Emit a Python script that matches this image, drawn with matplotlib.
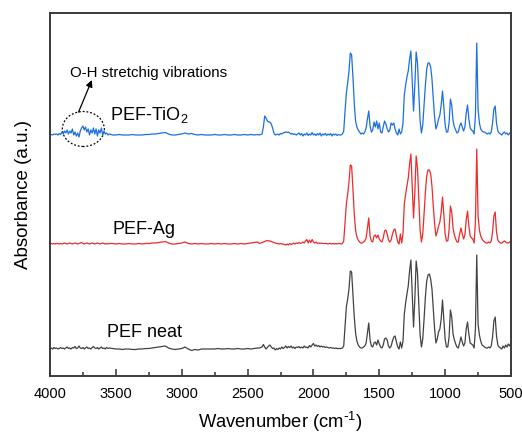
import numpy as np
import matplotlib
matplotlib.use("Agg")
import matplotlib.pyplot as plt
from matplotlib.patches import Ellipse

plt.rcParams['font.family'] = ['Liberation Sans', 'DejaVu Sans']
plt.rcParams['mathtext.default'] = 'regular'

# wavenumber grid (cm-1): 4000-3550 step 10, 3525-2425 step 25, 2410-1800 step 10, 1790-500 step 10
wavenumber = np.concatenate([np.arange(4000, 3549, -10), np.arange(3525, 2424, -25),
                             np.arange(2410, 1799, -10), np.arange(1790, 499, -10)])

neat_A = [0,1,0,1.5,0.5,1,0,0.5,1.5,0.5, 1,0,1,2,0.5,1,0,1.5,1,2.5,
          0.5,1,3,1,0.5,1.5,0,1,2,0.5, 1,0,1.5,2.5,1,0.5,1.5,0,1,2, 0.5,1,0,1.5,0.5,1]
ag_A = [0,0.5,0,0.5,0,0.5,0.5,0,0.5,0, 0.5,1,0.5,0,0.5,1,0.5,0,0.5,1,
        0.5,0,0.5,1,1.5,0.5,0,0.5,1,0.5, 0,0.5,1,0.5,0,0.5,1,0.5,0,0.5, 1,0.5,0,0.5,0,0.5]
tio2_A = [0,0.5,0,1,0.5,1,0,1.5,0.5,3, 1,4,2,5,1,4,2,6,0,3,
          -1,2,-2,4,7,9,5,8,3,6, 0,5,2,7,1,6,-1,5,2,7, 0,4,1,2,0,1]

neat_B = [0.5,0,0,-0.5,0,0,-0.5,-0.5,0,0, 0.5,0.5,1,1.5,2,2.5,3,1,0,-0.5,
          0,0.5,2,0,-1.5,-0.5,-1,0,0,0, 0,0,0.5,0,0,0.5,0,0,0.5,0, 0,0.5,0,0.5,1]
ag_B = [0.5,0,0.5,0,0,0.5,0,0,0.5,0, 0.5,0.5,1,1,1.5,2,2.5,1,0,0,
        0.5,1,2,0.5,0,0.5,0,0.5,0,0, 0.5,0,0.5,0,0.5,0,0,0.5,0,0.5, 0,0.5,1,1.5,2]
tio2_B = [0,0,0.5,0,0,0,0.5,0,0,0, 0.5,0.5,1,1,1.5,2,2.5,1,0,0,
          0.5,1,2,1,1.5,0.5,0,0.5,0,0, 0,0.5,0,0,0.5,0,0,0.5,0,0, 0.5,0,0.5,0,0.5]

neat_C = [1,1.5,2,4.5,2,0,1.5,3,4,2, 0.5,1,-1,0.5,-0.5,1,0,2,0.5,1.5,
          3,1,2.5,1.5,3,1,2,0.5,2,1.5, 2.5,1,2,1,3,1.5,2,1,3.5,2,
          4,5.5,3,4,2.5,3.5,2,3,2,2.5, 1.5,2,1.5,1,1.5,1,1,0.5,1,0.5, 0.5,0.5]
ag_C = [0.5,1,1.5,2,2.5,3,3.5,3,3,2.5, 2,1.5,1,0.5,0.5,0,0.5,0,0,-0.5,
        -1,0,-1,0.5,-0.5,0,1,0,1,0.5, 1.5,0.5,1,2,1,3,4.5,1,4,1.5,
        4.5,2,1,2,0.5,1,0.5,1,0.5,0.5, 0.5,0.5,0,0.5,0.5,0,0.5,0,0.5,0, 0.5,0.5]
tio2_C = [0,0.5,1,8,19,17,14,13,13,11, 7,2,0,0.5,1,0,1.5,1,2,2.5,
          3,2.5,3,2,1,1.5,0.5,1,0,1, 2,0,1.5,-1,1,0,2,-0.5,1,0,
          2.5,0,1,-0.5,1.5,0,2,-1,1,0, 1.5,-0.5,1,0,1.5,-1,1,0,1,-0.5, 0.5,0]

neat_D = [0.5,1,3,22,42,50,60,78,77,55, 32,16,8,4,2,1,1,2,3,6,
          16,26,9,3,2,6,7,4,9,5, 2,1,4,10,11,9,3,1,3,8,
          12,13,7,2,0,7,1,8,35,46, 55,63,78,89,55,22,50,88,76,45,
          14,2,10,30,52,68,74,75,70,60, 40,20,6,10,17,20,30,49,30,10,
          2,2,12,39,32,15,9,5,2,1, 6,12,7,3,6,20,27,15,6,5,
          4,1,20,94,25,14,8,4,3,2, 1,1,2,1,3,12,28,32,13,4,
          2,1,0,3,1,4,2,5,3,6]
ag_D = [0,0.5,3,22,40,50,62,79,78,55, 30,14,7,4,2,1,1,2,3,6,
        16,26,8,3,2,8,9,6,9,5, 3,2,6,13,14,10,4,2,4,10,
        14,15,8,2,0,10,1,10,40,50, 58,66,80,90,58,26,52,88,76,45,
        14,2,10,30,52,68,74,74,70,58, 38,20,8,12,18,22,32,47,30,10,
        3,3,14,38,32,16,9,5,2,2, 10,16,10,5,9,24,33,18,8,6,
        5,1,22,95,28,14,8,5,3,2, 1,1,2,1,3,12,28,32,12,4,
        2,1,1,2,3,2,1,1,2,3]
tio2_D = [0,1,4,24,42,52,64,82,80,58, 32,14,8,5,3,1,2,1,3,7,
          16,24,9,3,5,13,8,14,6,12, 3,2,8,14,11,6,3,5,12,10,
          12,6,2,0,6,1,3,12,40,50, 58,64,76,84,55,24,50,83,72,42,
          14,2,10,30,50,66,72,72,68,56, 36,18,6,10,16,20,30,44,28,10,
          3,3,12,36,30,14,8,5,2,3, 9,12,8,4,8,22,30,16,7,5,
          4,1,20,92,26,12,6,4,3,3, 2,1,2,1,3,12,26,29,12,4,
          2,1,0,2,3,1,2,0,2,2]

series_names = ["PEF neat", "PEF-Ag", "PEF-TiO$_2$"]
series_values = [neat_A + neat_B + neat_C + neat_D,
                 ag_A + ag_B + ag_C + ag_D,
                 tio2_A + tio2_B + tio2_C + tio2_D]
offsets = [0, 105, 214]
colors = ["#424242", "#ee2a2a", "#1c6fe0"]

fig = plt.figure(figsize=(5.22, 4.32), dpi=100)
ax = fig.add_axes([50/522, 56/432, 461/522, 363/432])

for vals, off, col in zip(series_values, offsets, colors):
    ax.plot(wavenumber, np.array(vals, dtype=float) + off, color=col, lw=0.9)

ax.set_xlim(4000, 500)
ax.set_ylim(-27, 336)
ax.set_xticks(np.arange(4000, 499, -500))
ax.set_xticks(np.arange(3750, 500, -500), minor=True)
ax.set_yticks([])
ax.tick_params(axis='x', which='major', direction='in', length=5, width=1.1,
               labelsize=10.5, pad=8, colors='#333333', labelcolor='black')
ax.tick_params(axis='x', which='minor', direction='in', length=3, width=1.1, colors='#333333')
for s in ax.spines.values():
    s.set_linewidth(1.4)
    s.set_color('#3a3a3a')

ax.set_xlabel("Wavenumber (cm$^{\\text{-}1}$)", fontsize=13.2, labelpad=6)
ax.set_ylabel("Absorbance (a.u.)", fontsize=13.5, labelpad=13)

ax.text(3545, 229, "PEF-TiO$_2$", fontsize=13, va='baseline', ha='left')
ax.text(3522, 115, "PEF-Ag", fontsize=13, va='baseline', ha='left')
ax.text(3570, 12, "PEF neat", fontsize=13, va='baseline', ha='left')

ax.add_patch(Ellipse((3747, 220), 319, 35, fill=False, ls=(0, (1.5, 1.5)),
                     lw=0.9, color='black'))
ax.annotate("", xy=(3682, 269), xytext=(3783, 237),
            arrowprops=dict(arrowstyle='-|>', color='black', lw=0.9,
                            mutation_scale=10, shrinkA=0, shrinkB=0))
ax.text(3848, 271.5, "O-H stretchig vibrations", fontsize=10.8, va='baseline', ha='left')

fig.savefig("out.png", dpi=100)
